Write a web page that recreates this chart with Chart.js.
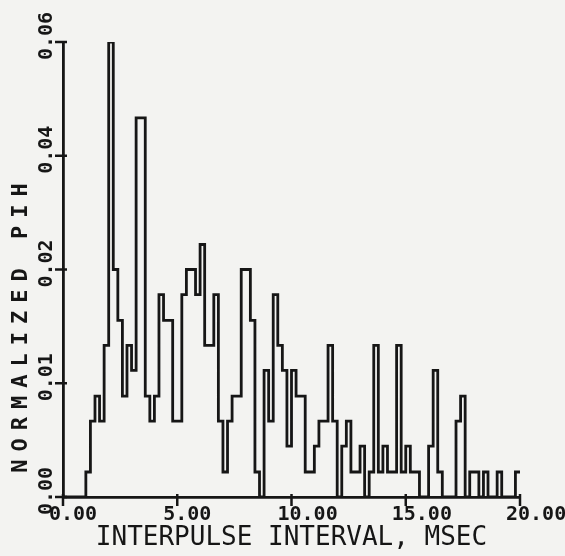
<!DOCTYPE html>
<html>
<head>
<meta charset="utf-8">
<script src="https://cdn.jsdelivr.net/npm/chart.js@4/dist/chart.umd.min.js"></script>
<style>
  html, body { margin: 0; padding: 0; background: #f3f3f1; }
  #wrap { width: 565px; height: 556px; }
</style>
</head>
<body>
<div id="wrap"><canvas id="pih"></canvas></div>
<script>
// Normalized PIH, 0.2 ms bins (left edge of each bin, msec)
const binStartMs = [
    0.0, 0.2, 0.4, 0.6, 0.8, 1.0, 1.2, 1.4, 1.6, 1.8,
    2.0, 2.2, 2.4, 2.6, 2.8, 3.0, 3.2, 3.4, 3.6, 3.8,
    4.0, 4.2, 4.4, 4.6, 4.8, 5.0, 5.2, 5.4, 5.6, 5.8,
    6.0, 6.2, 6.4, 6.6, 6.8, 7.0, 7.2, 7.4, 7.6, 7.8,
    8.0, 8.2, 8.4, 8.6, 8.8, 9.0, 9.2, 9.4, 9.6, 9.8,
    10.0, 10.2, 10.4, 10.6, 10.8, 11.0, 11.2, 11.4, 11.6, 11.8,
    12.0, 12.2, 12.4, 12.6, 12.8, 13.0, 13.2, 13.4, 13.6, 13.8,
    14.0, 14.2, 14.4, 14.6, 14.8, 15.0, 15.2, 15.4, 15.6, 15.8,
    16.0, 16.2, 16.4, 16.6, 16.8, 17.0, 17.2, 17.4, 17.6, 17.8,
    18.0, 18.2, 18.4, 18.6, 18.8, 19.0, 19.2, 19.4, 19.6, 19.8,
];
const histEndMs = 20.0;

const pih = [
    0, 0, 0, 0, 0, 0.0033, 0.0100, 0.0133, 0.0100, 0.0200,
    0.0600, 0.0300, 0.0233, 0.0133, 0.0200, 0.0167, 0.0500, 0.0500, 0.0133, 0.0100,
    0.0133, 0.0267, 0.0233, 0.0233, 0.0100, 0.0100, 0.0267, 0.0300, 0.0300, 0.0267,
    0.0333, 0.0200, 0.0200, 0.0267, 0.0100, 0.0033, 0.0100, 0.0133, 0.0133, 0.0300,
    0.0300, 0.0233, 0.0033, 0, 0.0167, 0.0100, 0.0267, 0.0200, 0.0167, 0.0067,
    0.0167, 0.0133, 0.0133, 0.0033, 0.0033, 0.0067, 0.0100, 0.0100, 0.0200, 0.0100,
    0, 0.0067, 0.0100, 0.0033, 0.0033, 0.0067, 0, 0.0033, 0.0200, 0.0033,
    0.0067, 0.0033, 0.0033, 0.0200, 0.0033, 0.0067, 0.0033, 0.0033, 0, 0,
    0.0067, 0.0167, 0.0033, 0, 0, 0, 0.0100, 0.0133, 0, 0.0033,
    0.0033, 0, 0.0033, 0, 0, 0.0033, 0, 0, 0, 0.0033,
];

const xTickValues = [0, 5, 10, 15, 20];
const xTickLabels = ['0.00', '5.00', '10.00', '15.00', '20.00'];
const yTickValues = [0, 0.015, 0.03, 0.045, 0.06];
const yTickLabels = ['0.00', '0.01', '0.02', '0.04', '0.06'];

const xTitle = 'INTERPULSE INTERVAL, MSEC';
const yTitle = 'NORMALIZED PIH';

const ink = '#161616';

// paper background + plotter style ticks and lettering
const plotterAxes = {
    id: 'plotterAxes',
    beforeDraw(chart) {
        const { ctx, width, height } = chart;
        ctx.save();
        ctx.fillStyle = '#f3f3f1';
        ctx.fillRect(0, 0, width, height);
        ctx.restore();
    },
    afterDraw(chart) {
        const { ctx, chartArea } = chart;
        const xs = chart.scales.x;
        const ys = chart.scales.y;
        ctx.save();
        ctx.strokeStyle = ink;
        ctx.fillStyle = ink;
        ctx.lineWidth = 2.5;

        xTickValues.forEach((v, i) => {
            const px = xs.getPixelForValue(v);
            ctx.beginPath();
            ctx.moveTo(px, chartArea.bottom - 3);
            ctx.lineTo(px, chartArea.bottom + 9);
            ctx.stroke();
            ctx.font = 'bold 20px "DejaVu Sans Mono"';
            ctx.textAlign = 'left';
            ctx.textBaseline = 'middle';
            ctx.fillText(xTickLabels[i], px - 14, chartArea.bottom + 18);
        });

        yTickValues.forEach((v, i) => {
            const py = ys.getPixelForValue(v);
            ctx.beginPath();
            ctx.moveTo(chartArea.left - 8, py);
            ctx.lineTo(chartArea.left + 4, py);
            ctx.stroke();
            ctx.save();
            ctx.translate(chartArea.left - 16, py - 6);
            ctx.rotate(-Math.PI / 2);
            ctx.font = 'bold 20px "DejaVu Sans Mono"';
            ctx.textAlign = 'center';
            ctx.textBaseline = 'middle';
            ctx.fillText(yTickLabels[i], 0, 0);
            ctx.restore();
        });

        ctx.font = '26px "DejaVu Sans Mono"';
        ctx.textAlign = 'center';
        ctx.textBaseline = 'middle';
        ctx.fillText(xTitle, (chartArea.left + chartArea.right) / 2, chartArea.bottom + 41);

        ctx.save();
        ctx.translate(chartArea.left - 42, chartArea.bottom - 169);
        ctx.rotate(-Math.PI / 2);
        ctx.font = 'bold 22px "DejaVu Sans Mono"';
        ctx.letterSpacing = '8px';
        ctx.textAlign = 'center';
        ctx.textBaseline = 'middle';
        ctx.fillText(yTitle, 4, 0);
        ctx.restore();

        ctx.restore();
    },
};

const points = binStartMs.map((x, i) => ({ x, y: pih[i] }));
points.push({ x: histEndMs, y: pih[pih.length - 1] });

new Chart(document.getElementById('pih').getContext('2d'), {
    type: 'line',
    data: {
        datasets: [{
            data: points,
            stepped: 'before',
            borderColor: ink,
            borderWidth: 2.8,
            pointRadius: 0,
            fill: false,
        }],
    },
    options: {
        responsive: true,
        maintainAspectRatio: false,
        animation: false,
        layout: { padding: { left: 63, right: 45, top: 42, bottom: 59 } },
        plugins: {
            legend: { display: false },
            tooltip: { enabled: false },
        },
        scales: {
            x: {
                type: 'linear',
                min: 0,
                max: 20,
                grid: { display: false, drawTicks: false },
                ticks: { display: false },
                border: { display: true, color: ink, width: 2.8 },
            },
            y: {
                type: 'linear',
                min: 0,
                max: 0.06,
                grid: { display: false, drawTicks: false },
                ticks: { display: false },
                border: { display: true, color: ink, width: 2.8 },
            },
        },
    },
    plugins: [plotterAxes],
});
</script>
</body>
</html>
